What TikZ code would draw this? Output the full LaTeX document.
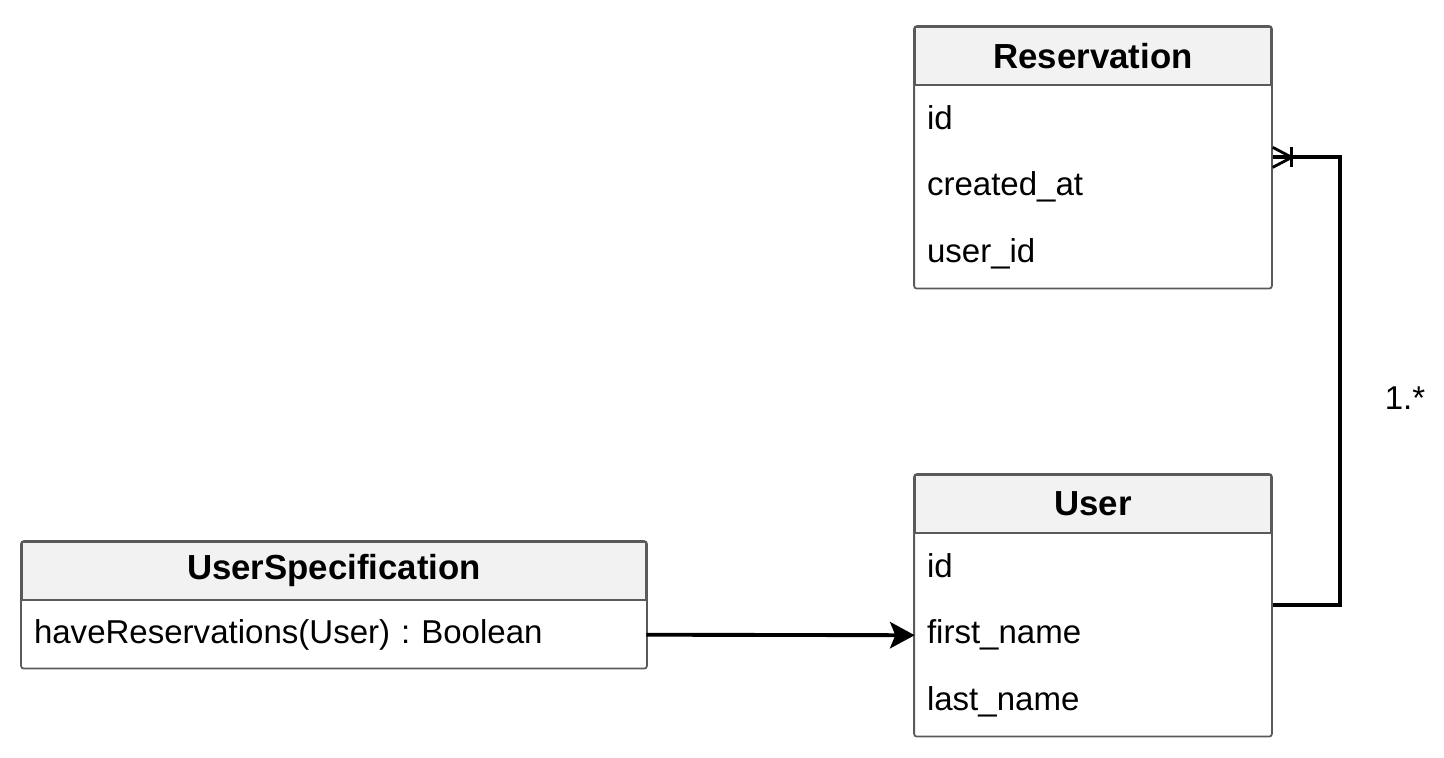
\documentclass[tikz,border=0pt]{standalone}
\usepackage{fontspec}
\setmainfont{Liberation Sans}
\usetikzlibrary{positioning,fit,arrows.meta,calc}
\definecolor{headgray}{HTML}{F2F2F2}
\definecolor{linegray}{HTML}{5A5A5A}
\frenchspacing

\begin{document}
\begin{tikzpicture}[
        head/.style={draw=linegray, line width=1pt, fill=headgray, minimum height=1.16cm,
                    inner sep=0pt, font=\fontsize{19.8}{24}\selectfont\bfseries},
        body/.style={align=left, inner xsep=0.24cm, inner ysep=0pt,
                    font=\fontsize{18.8}{38}\selectfont},
        frame/.style={draw=linegray, line width=1pt, rounded corners=1.5pt, inner sep=0pt},
        rel/.style={line width=2.2pt, black},
        arr/.style={-{Stealth[length=14pt, width=15pt, inset=3pt]}, line width=2.2pt, black},
    ]
        \useasboundingbox (0,0) rectangle (28.88,-15.16);

        % Reservation
        \node[head, minimum width=7.12cm] (res-head) at (21.86, -1.12) {Reservation};
        \node[body, text width=6.64cm, minimum height=4.04cm, below=0pt of res-head] (res-body)
            {id\\created\_at\\user\_id};
        \node[frame, fit=(res-head)(res-body)] (res) {};

        % User
        \node[head, minimum width=7.12cm] (user-head) at (21.86, -10.08) {User};
        \node[body, text width=6.64cm, minimum height=4.04cm, below=0pt of user-head] (user-body)
            {id\\first\_name\\last\_name};
        \node[frame, fit=(user-head)(user-body)] (user) {};

        % UserSpecification
        \node[head, minimum width=12.48cm] (spec-head) at (6.68, -11.42) {UserSpecification};
        \node[body, text width=12cm, minimum height=1.34cm, below=0pt of spec-head] (spec-body)
            {haveReservations(User) : Boolean};
        \node[frame, fit=(spec-head)(spec-body)] (spec) {};

        \draw[arr] (spec-body.east) -- (user-body.west);

        % one-to-many
        \draw[rel] (user.east) -- ++(1.34,0) |- (res.east);
        \draw[rel, line width=1.6pt] ($(res.east)+(0.38,0)$) -- ($(res.east)+(0,0.2)$);
        \draw[rel, line width=1.6pt] ($(res.east)+(0.38,0)$) -- ($(res.east)+(0,-0.2)$);
        \draw[rel, line width=1.6pt] ($(res.east)+(0.38,0.2)$) -- ($(res.east)+(0.38,-0.2)$);
        \node[font=\fontsize{18.8}{23}\selectfont] (mult) at (28.1, -7.96) {1.*};
    \end{tikzpicture}
\end{document}
